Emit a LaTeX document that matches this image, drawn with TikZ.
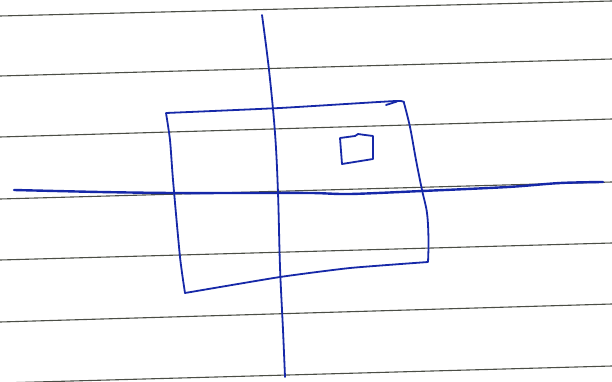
\documentclass[tikz,border=0pt]{standalone}
\definecolor{ink}{RGB}{22,40,168}
\definecolor{rule}{RGB}{75,78,70}
\tikzset{
  ruling/.style={draw=rule, line width=1.1pt},
  pen/.style={draw=ink, line width=1.8pt, line join=round, line cap=round},
  thickpen/.style={draw=ink, line width=2.4pt, line join=round, line cap=round}
}
\begin{document}
\begin{tikzpicture}[x=1pt,y=-1pt]
\useasboundingbox[fill=white] (0,0) rectangle (612,382);
% ruled lines of the paper
\draw[ruling] (0,16) -- (612,1);
\draw[ruling] (0,76) -- (612,59);
\draw[ruling] (0,137) -- (612,119);
\draw[ruling] (0,199) -- (612,182);
\draw[ruling] (0,260) -- (612,243);
\draw[ruling] (0,322) -- (612,304);
\draw[ruling] (0,383) -- (612,366);
% vertical axis
\draw[pen] plot[smooth, tension=0.6] coordinates {(262,15) (269,70) (275,133) (278,193) (280,267) (283,330) (285,377)};
% horizontal axis
\draw[thickpen] plot[smooth, tension=0.5] coordinates {(14,190) (100,192) (172,193) (250,193) (312,193) (350,194) (422,191) (508,187) (560,183) (603,182)};
% big quadrilateral
\draw[pen] plot[smooth, tension=0.3] coordinates {(166,113) (280,108) (396,101) (404,103)}
  -- plot[smooth, tension=0.6] coordinates {(404,103) (410,127) (416,160) (422,190) (427,213) (428.5,240) (428,262)}
  -- plot[smooth, tension=0.3] coordinates {(428,262) (350,268) (280,277) (185,293)}
  -- plot[smooth, tension=0.4] coordinates {(185,293) (180,257) (173,180) (170,140) (166,113)};
\draw[pen] (386,105) -- (397,101.5);
% small square
\draw[pen] (340,138) -- (355,136) -- (358,134) -- (365,135) -- (373,136)
  -- (373,159) -- (342,164) -- cycle;
\end{tikzpicture}
\end{document}
